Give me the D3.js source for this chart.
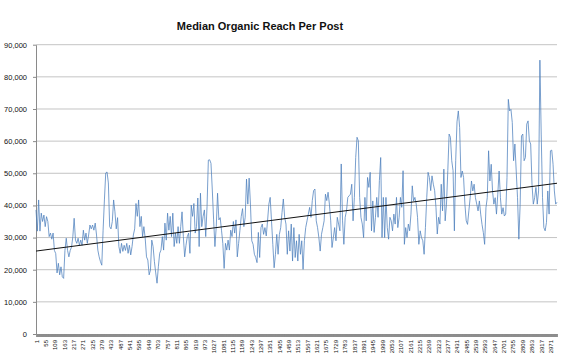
<!DOCTYPE html>
<html>
<head>
<meta charset="utf-8">
<script src="https://cdn.jsdelivr.net/npm/d3@7"></script>
<style>
  body { margin: 0; background: #fff; }
  svg { display: block; font-family: "Liberation Sans", Arial, sans-serif; }
</style>
</head>
<body>
<div id="chart"></div>
<script>
// number of posts on the category axis
var postCount = 3010;
var labelStep = 54;

// y axis ticks
var yTicks = [0, 10000, 20000, 30000, 40000, 50000, 60000, 70000, 80000, 90000];

// median organic reach (evenly spaced over the posts)
var reachA = [38600, 32000, 41700, 32000, 37600, 35000, 37000, 33400, 36500, 35000,
  30300, 31400, 29500, 31400, 26000, 25000, 19000, 22000, 18400, 20900,
  17800, 17300, 26000, 29800, 26000, 24000, 26000, 27000, 30300, 36000,
  29200, 28200, 29800, 27600, 29200, 27600, 32300, 29200, 31400, 28200,
  30800, 33900, 32700, 33900, 32300, 34500, 30800, 26100, 24000, 22500,
  21400, 32300, 41700, 50100, 50400, 47000, 33400, 32700, 35000, 41700,
  38000, 32700, 36200, 27200, 25100, 28200, 25700, 27600, 26000, 28200,
  25100, 27600, 24600, 27200, 30800, 32700, 40600, 36600, 41700];
var reachB = [33400, 36600, 30300, 33400, 29800, 24000, 23000, 18400, 19900, 29200,
  27200, 22500, 19000, 15800, 20900, 25100, 26100, 30300, 26100, 34500,
  29200, 37600, 32300, 36600, 30300, 37600, 27200, 31400, 28200, 33400,
  28200, 33400, 38000, 30300, 24000, 27600, 30300, 31400, 25100, 40100,
  36600, 40600, 31400, 33400, 42300, 27200, 43800, 33400, 36600, 38600,
  30300, 39600, 54100, 54200, 53100, 44800, 35500, 27200, 33400, 43800,
  35500, 36200, 32300, 28200, 20400, 28200, 26100, 29200, 26100, 32300,
  30300, 35000, 31400, 35500, 24000, 28200, 32300, 36600, 39000, 33400];
var reachC = [36300, 48200, 40400, 48500, 40400, 29000, 27900, 24800, 23800, 22200,
  31600, 23800, 33100, 34200, 31000, 33100, 30500, 35200, 40400, 42500,
  35200, 27900, 20600, 24800, 31000, 24800, 31000, 33100, 37800, 42000,
  36300, 34200, 24800, 32100, 25800, 34200, 22700, 33100, 23800, 29000,
  22700, 31000, 24800, 29000, 20100, 29000, 33100, 35200, 37300, 39400,
  36300, 41500, 44600, 45100, 35200, 33100, 30000, 25800, 31000, 33100,
  35200, 43500, 41500, 44100, 40400, 35200, 26900, 30000, 33100, 29000,
  36300, 34200, 32100, 52900, 35200, 27900, 36300, 38300, 42500];
var reachD = [43000, 43500, 46600, 35200, 42500, 54900, 61200, 60100, 42500, 36300,
  34200, 30000, 42500, 35200, 48700, 45600, 50300, 32100, 41400, 31600,
  36300, 42500, 36300, 47700, 54900, 30000, 42500, 30000, 42500, 33100,
  29500, 36300, 35200, 32100, 37300, 34200, 42500, 33100, 36300, 42500,
  39400, 50800, 27900, 33100, 30000, 34200, 32100, 37300, 46100, 41400,
  42500, 40400, 36300, 27900, 32100, 30000, 29000, 24800, 33100, 42500,
  50300, 48700, 44600, 49200, 46600, 44600, 39400, 31100, 36300, 34200,
  46600, 38300, 51300, 35200, 40400, 50800, 62200, 61200, 53900, 50800];
var reachE = [32100, 53900, 66000, 69400, 64200, 48700, 50700, 48700, 40400, 35200,
  34100, 38300, 42400, 47600, 44500, 46600, 42400, 40400, 38300, 41400,
  37300, 34100, 31600, 27900, 39300, 42400, 57000, 47600, 52800, 44500,
  40400, 42400, 37300, 43500, 50700, 42400, 37300, 39300, 36700, 37300,
  48700, 73000, 69400, 69900, 65800, 53900, 59100, 50700, 42400, 29500,
  40400, 61600, 62200, 53900, 54900, 65300, 66300, 60100, 59100, 46600,
  40400, 42400, 45600, 40400, 44500, 85200, 62200, 42400, 33100, 32100,
  34700, 44500, 37300, 57000, 57200, 52800, 44500, 40400, 41000];

// linear trend line, start and end values
var trendValues = [25800, 46900];

var reach = reachA.concat(reachB, reachC, reachD, reachE);
var series = reach.map(function (v, i) {
  return { post: 1 + i * (postCount - 1) / (reach.length - 1), value: v };
});
var trend = [
  { post: 1, value: trendValues[0] },
  { post: postCount, value: trendValues[1] }
];

var width = 571;
var height = 364;
var plotLeft = 36, plotRight = 557, plotTop = 44.7, plotBottom = 334;

var svg = d3.select("#chart").append("svg")
  .attr("width", width)
  .attr("height", height);

var x = d3.scaleLinear().domain([1, postCount]).range([plotLeft, plotRight]);
var y = d3.scaleLinear().domain([0, 90000]).range([plotBottom, plotTop]);

// title
svg.append("text")
  .attr("x", 260)
  .attr("y", 30)
  .attr("text-anchor", "middle")
  .attr("font-size", "11px")
  .attr("font-weight", "bold")
  .attr("fill", "#111")
  .text("Median Organic Reach Per Post");

// gridlines
svg.append("g")
  .selectAll("line")
  .data(yTicks.filter(function (d) { return d > 0; }))
  .enter()
  .append("line")
  .attr("x1", plotLeft)
  .attr("x2", plotRight)
  .attr("y1", function (d) { return y(d); })
  .attr("y2", function (d) { return y(d); })
  .attr("stroke", "#c4c4c4")
  .attr("stroke-width", 1);

// y axis
var yAxis = svg.append("g")
  .attr("transform", "translate(" + plotLeft + ",0)")
  .call(d3.axisLeft(y).tickValues(yTicks).tickFormat(d3.format(",")).tickSize(3).tickPadding(6).tickSizeOuter(0));
yAxis.select(".domain").attr("stroke", "#8a8a8a");
yAxis.selectAll(".tick line").attr("stroke", "#8a8a8a");
yAxis.selectAll("text")
  .attr("font-size", "7.5px")
  .attr("fill", "#111");

// x axis: a tick for every post, a label every 54th
var xAxis = svg.append("g")
  .attr("transform", "translate(0," + plotBottom + ")")
  .call(d3.axisBottom(x)
    .tickValues(d3.range(1, postCount + 1))
    .tickFormat(function (d) { return (d - 1) % labelStep === 0 ? d : ""; })
    .tickSize(3)
    .tickSizeOuter(0));
xAxis.select(".domain").attr("stroke", "#8a8a8a");
xAxis.selectAll(".tick line").attr("stroke", "#8f8f8f").attr("stroke-width", 0.6);
xAxis.selectAll(".tick text")
  .filter(function (d) { return (d - 1) % labelStep !== 0; })
  .remove();
xAxis.selectAll(".tick text")
  .attr("transform", "rotate(-90)")
  .attr("x", -6)
  .attr("y", 0)
  .attr("dy", "0.35em")
  .style("text-anchor", "end")
  .attr("font-size", "6px")
  .attr("fill", "#111");

// reach series
svg.append("path")
  .datum(series)
  .attr("fill", "none")
  .attr("stroke", "#4f81bd")
  .attr("stroke-opacity", 0.85)
  .attr("stroke-width", 0.9)
  .attr("stroke-linejoin", "round")
  .attr("d", d3.line()
    .x(function (d) { return x(d.post); })
    .y(function (d) { return y(d.value); }));

// trend line
svg.append("path")
  .datum(trend)
  .attr("fill", "none")
  .attr("stroke", "#111")
  .attr("stroke-width", 1)
  .attr("d", d3.line()
    .x(function (d) { return x(d.post); })
    .y(function (d) { return y(d.value); }));
</script>
</body>
</html>
